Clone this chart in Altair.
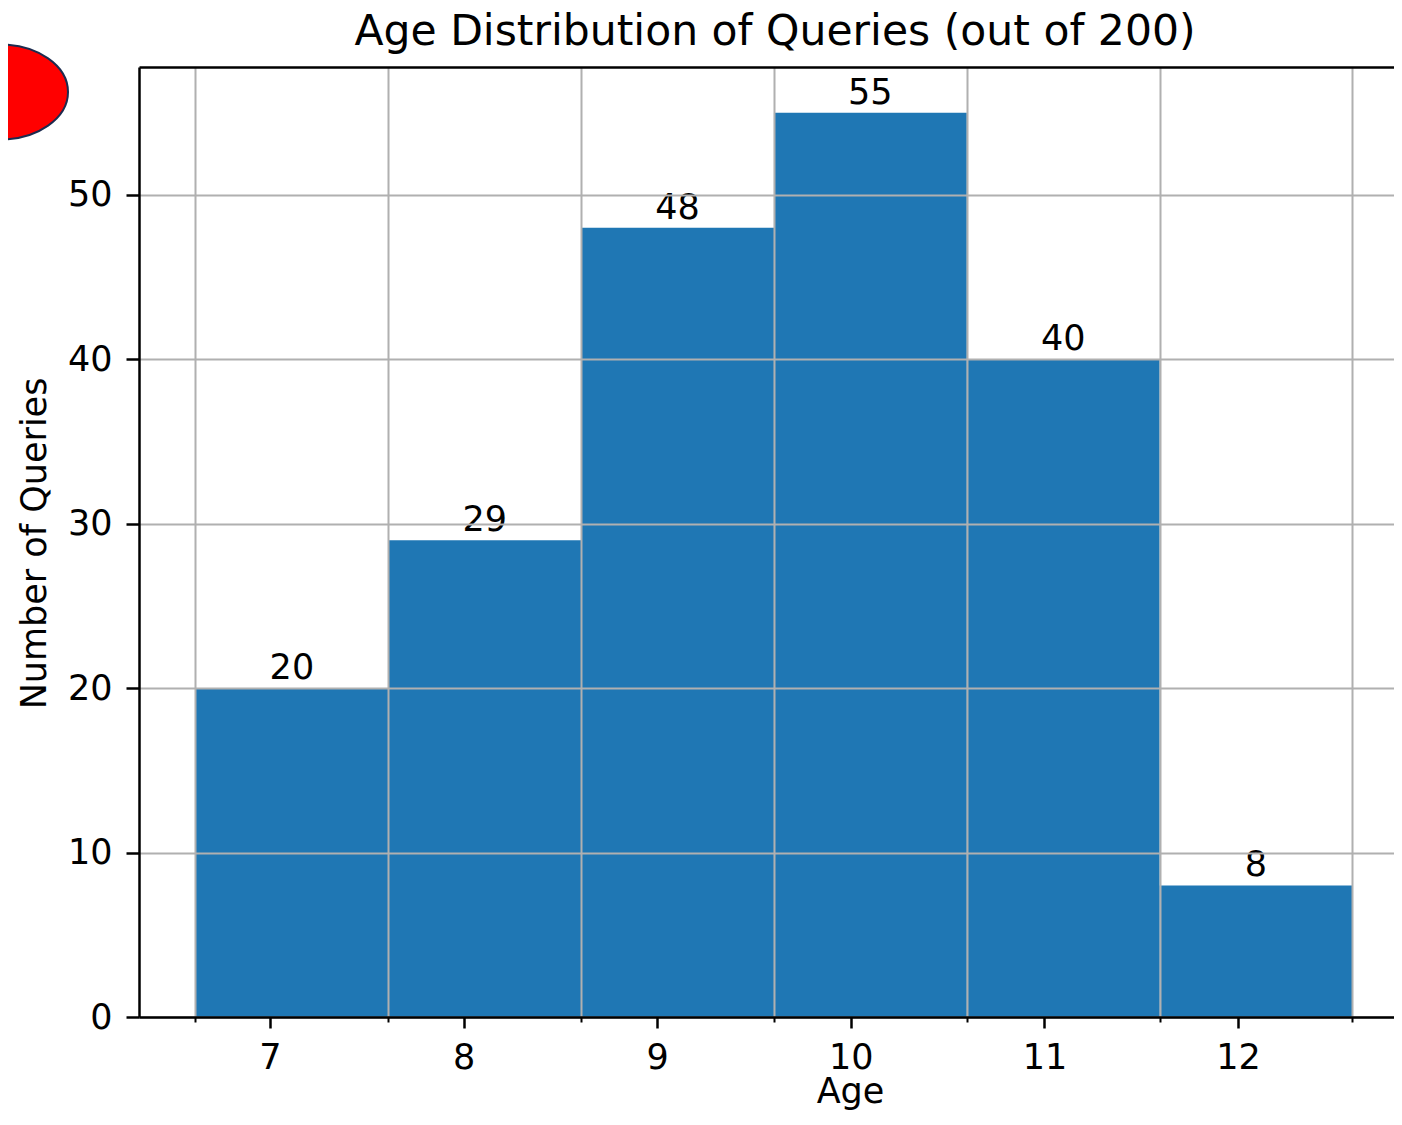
import altair as alt
import pandas as pd

# ---- data ----
ages = [7, 8, 9, 10, 11, 12]
counts = [20, 29, 48, 55, 40, 8]
bin_left = [6.615, 7.611, 8.607, 9.603, 10.599, 11.595]
bin_right = [7.611, 8.607, 9.603, 10.599, 11.595, 12.591]
y_ticks = [0, 10, 20, 30, 40, 50]
title_text = "Age Distribution of Queries (out of 200)"
x_title = "Age"
y_title = "Number of Queries"

df = pd.DataFrame({"age": ages, "count": counts, "left": bin_left, "right": bin_right})
df["center"] = (df["left"] + df["right"]) / 2
df["base"] = 0
edges = bin_left + [bin_right[-1]]
edges_df = pd.DataFrame({"edge": edges})
marker_df = pd.DataFrame({"k": [0]})
title_df = pd.DataFrame({"t": [title_text]})

FONT = "DejaVu Sans"
GRID = "#b0b0b0"
PLOT_W = 1255
xscale = alt.Scale(domain=[6.3233, 6.3233 + PLOT_W / 193.6], nice=False, zero=False)
yscale = alt.Scale(domain=[0, 57.78], nice=False, zero=True)

bars = alt.Chart(df).mark_rect(color="#1f77b4").encode(
    x=alt.X("left:Q", scale=xscale, axis=alt.Axis(
        values=ages, orient="bottom", grid=False, tickSize=11, tickWidth=2.5,
        tickColor="black", domainColor="black", domainWidth=2.5,
        labelFontSize=35, labelFont=FONT, labelColor="black", labelPadding=12,
        labelFlush=False, labelOverlap=False,
        title=x_title, titleFontSize=35, titleFont=FONT, titleFontWeight="normal",
        titleColor="black", titleX=711, titleY=85, titleAlign="center",
        titleBaseline="alphabetic", zindex=1)),
    x2="right:Q",
    y=alt.Y("count:Q", scale=yscale, axis=alt.Axis(
        values=y_ticks, grid=True, gridColor=GRID, gridWidth=2,
        tickSize=13, tickWidth=2.5, tickColor="black",
        domainColor="black", domainWidth=2.5,
        labelFontSize=35, labelFont=FONT, labelColor="black", labelPadding=14,
        labelFlush=False, labelOverlap=False,
        title=y_title, titleFontSize=35, titleFont=FONT, titleFontWeight="normal",
        titleColor="black", titleX=-94, titleY=476, titleAngle=270,
        titleAlign="center", titleBaseline="alphabetic", zindex=1)),
    y2="base:Q",
)

labels = alt.Chart(df).mark_text(
    dy=-9, baseline="alphabetic", align="center", fontSize=35, font=FONT, color="black"
).encode(
    x=alt.X("center:Q", scale=xscale, axis=None),
    y=alt.Y("count:Q", scale=yscale, axis=None),
    text="count:Q",
)

edge_grid = alt.Chart(edges_df).mark_rule(opacity=0).encode(
    x=alt.X("edge:Q", scale=xscale, axis=alt.Axis(
        values=edges, orient="bottom", grid=True, gridColor=GRID, gridWidth=2,
        tickSize=5, tickWidth=2, tickColor="black", labels=False, domain=False,
        title=None, zindex=1)),
)

top_frame = alt.Chart(edges_df).mark_rule(opacity=0).encode(
    x=alt.X("edge:Q", scale=xscale, axis=alt.Axis(
        orient="top", ticks=False, labels=False, grid=False, domain=True,
        domainColor="black", domainWidth=2.5, title=None, zindex=1)),
)

ellipse = alt.Chart(marker_df).mark_point(
    shape="M -1 0 A 1 0.6985 0 1 0 1 0 A 1 0.6985 0 1 0 -1 0 Z",
    size=18496, filled=True, fill="#ff0000", stroke="#1c2b4f",
    strokeWidth=2, opacity=1,
).encode(x=alt.value(-139), y=alt.value(25))

title = alt.Chart(title_df).mark_text(
    fontSize=42.5, font=FONT, color="black", align="center", baseline="alphabetic"
).encode(x=alt.value(636), y=alt.value(-22), text="t:N")

chart = alt.layer(bars, labels, edge_grid, top_frame, ellipse, title).resolve_axis(
    x="independent", y="independent"
).properties(
    width=PLOT_W,
    height=950,
    autosize=alt.AutoSizeParams(type="none"),
    padding={"left": 131, "top": 59, "right": 0, "bottom": 94},
).configure_view(stroke="transparent")

chart.save("out.html", embed_options={"renderer": "svg", "actions": False})
